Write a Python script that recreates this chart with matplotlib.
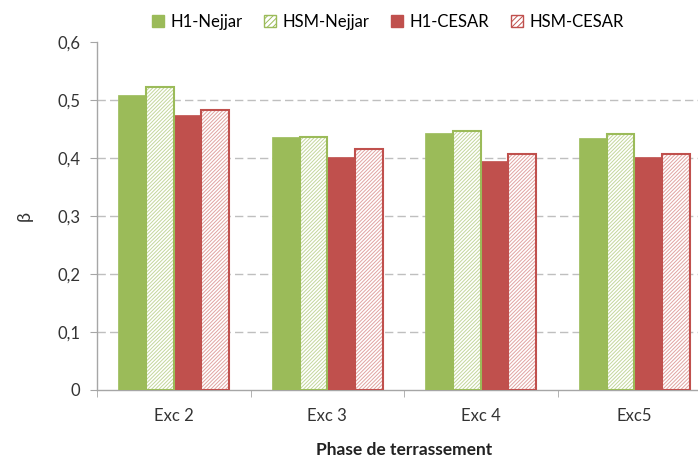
import matplotlib.pyplot as plt
from matplotlib.patches import Patch
import numpy as np

plt.rcParams['font.family'] = ['Lato', 'DejaVu Sans']
plt.rcParams['hatch.linewidth'] = 0.7

phases = ['Exc 2', 'Exc 3', 'Exc 4', 'Exc5']
series = ['H1-Nejjar', 'HSM-Nejjar', 'H1-CESAR', 'HSM-CESAR']
h1_nejjar = [0.508, 0.436, 0.443, 0.434]
hsm_nejjar = [0.522, 0.437, 0.446, 0.441]
h1_cesar = [0.474, 0.401, 0.395, 0.401]
hsm_cesar = [0.483, 0.416, 0.407, 0.407]

green = '#9BBB59'
red = '#C0504D'
green_light = '#C3D69B'
red_light = '#E0A3A1'
grey = '#A6A6A6'

fig = plt.figure(figsize=(6.98, 4.59), dpi=100)
ax = fig.add_axes([97 / 698, 69 / 459, 614 / 698, 348 / 459])

x = np.arange(len(phases))
w = 0.18
values = [h1_nejjar, hsm_nejjar, h1_cesar, hsm_cesar]
colors = [green, green, red, red]
lights = [green_light, green_light, red_light, red_light]
handles = []
for i, (name, vals, c, lc) in enumerate(zip(series, values, colors, lights)):
    pos = x + (i - 1.5) * w
    if i % 2 == 0:
        ax.bar(pos, vals, w, color=c, edgecolor=c, linewidth=0.5, zorder=3)
        handles.append(Patch(facecolor=c, edgecolor=c, label=name))
    else:
        # pale hatching inside, solid outline on top
        ax.bar(pos, vals, w, facecolor='white', edgecolor=lc, hatch='/////////',
               linewidth=0, zorder=3)
        ax.bar(pos, vals, w, fill=False, edgecolor=c, linewidth=1.5, zorder=4)
        handles.append(Patch(facecolor='white', edgecolor=c, hatch='//////',
                             linewidth=1, label=name))

ax.set_xlim(-0.5, len(phases) - 0.5)
ax.set_ylim(0, 0.6)
yt = np.arange(0, 0.61, 0.1)
ax.set_yticks(yt)
ax.set_yticklabels(['0' if v == 0 else f'{v:.1f}'.replace('.', ',') for v in yt])
ax.set_xticks(x)
ax.set_xticklabels(phases)
ax.set_xticks(np.arange(-0.5, len(phases)), minor=True)
ax.tick_params(axis='x', which='major', length=0, pad=13, labelsize=12, colors='#333333')
ax.tick_params(axis='x', which='minor', length=5, color=grey, direction='out')
ax.tick_params(axis='y', length=5, color=grey, labelsize=12, labelcolor='#333333', pad=7)

for v in np.arange(0.1, 0.55, 0.1):
    ax.axhline(v, color='#BFBFBF', linestyle=(0, (6, 3)), linewidth=1, zorder=1)

for s in ['top', 'right']:
    ax.spines[s].set_visible(False)
for s in ['left', 'bottom']:
    ax.spines[s].set_color(grey)
    ax.spines[s].set_linewidth(1)

ax.set_ylabel('β', fontsize=13, labelpad=18, color='#333333')
ax.set_xlabel('Phase de terrassement', fontsize=12.5, fontweight='bold', labelpad=13, color='#222222')

fig.legend(handles=handles, loc='center', bbox_to_anchor=(388 / 698, 1 - 22 / 459), ncol=4,
           frameon=False, fontsize=12, handlelength=0.7, handleheight=0.7, handletextpad=0.4,
           columnspacing=1.3)

fig.savefig('out.png', dpi=100)
